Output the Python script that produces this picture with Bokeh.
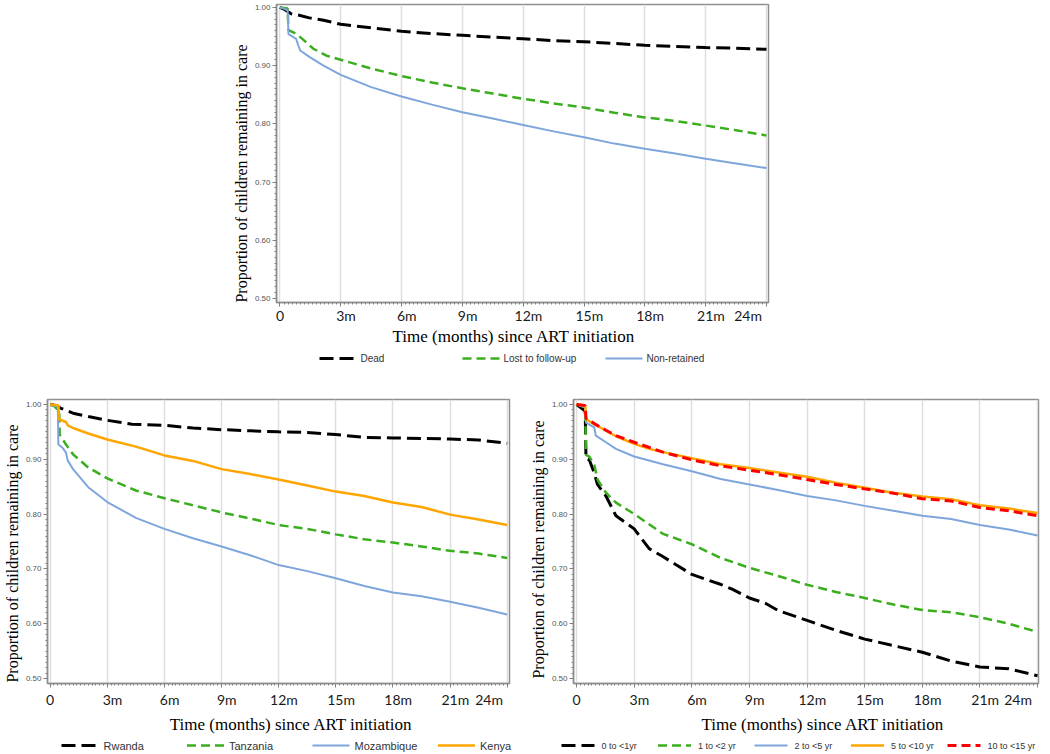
import numpy as np
from bokeh.plotting import figure
from bokeh.models import Range1d, FixedTicker, NumeralTickFormatter, Spacer
from bokeh.layouts import row, column
from bokeh.core.properties import value
from bokeh.embed import file_html
from bokeh.resources import INLINE

# ---------------- data ----------------
X_TICKS = [0, 3, 6, 9, 12, 15, 18, 21, 24]
X_TICK_LABELS = ["0", "3m", "6m", "9m", "12m", "15m", "18m", "21m", "24m"]
Y_TICKS = [0.5, 0.6, 0.7, 0.8, 0.9, 1.0]
Y_TITLE = "Proportion of children remaining in care"
X_TITLE = "Time (months) since ART initiation"

# Panel A: outcome definitions
A_LABELS = ["Dead", "Lost to follow-up", "Non-retained"]
dead_m = [0, 0.25, 0.55, 0.9, 1.45, 2.15, 3, 4.5, 6, 7.5, 9, 10.5, 12, 13.5, 15, 16.5, 18, 19.5, 21, 22.5, 24]
dead_v = [1.0, 0.996, 0.989, 0.987, 0.982, 0.978, 0.971, 0.965, 0.959, 0.955, 0.952, 0.949, 0.946, 0.943, 0.941, 0.938, 0.935, 0.933, 0.931, 0.930, 0.928]
ltfu_m = [0, 0.38, 0.42, 0.83, 1.2, 1.65, 2.3, 3, 4.5, 6, 7.5, 9, 10.5, 12, 13.5, 15, 16.5, 18, 19.5, 21, 22.5, 24]
ltfu_v = [1.0, 0.998, 0.961, 0.954, 0.943, 0.929, 0.917, 0.910, 0.895, 0.882, 0.871, 0.861, 0.852, 0.843, 0.835, 0.828, 0.819, 0.811, 0.805, 0.797, 0.789, 0.780]
nonret_m = [0, 0.2, 0.38, 0.42, 0.8, 0.9, 1.0, 1.45, 2.15, 3, 4.5, 6, 7.5, 9, 10.5, 12, 13.5, 15, 16.5, 18, 19.5, 21, 22.5, 24]
nonret_v = [1.0, 0.998, 0.995, 0.954, 0.946, 0.935, 0.926, 0.915, 0.900, 0.884, 0.863, 0.847, 0.833, 0.820, 0.809, 0.798, 0.787, 0.777, 0.766, 0.757, 0.749, 0.740, 0.732, 0.724]

# Panel B: by country
B_LABELS = ["Rwanda", "Tanzania", "Mozambique", "Kenya"]
rwanda_m = [0, 0.3, 0.57, 1.2, 2, 3, 4.3, 6, 7.5, 9, 10.5, 12, 13.5, 15, 16.5, 18, 19.5, 21, 22.5, 24]
rwanda_v = [1.0, 0.998, 0.993, 0.984, 0.978, 0.971, 0.964, 0.962, 0.957, 0.954, 0.952, 0.950, 0.949, 0.945, 0.940, 0.939, 0.938, 0.937, 0.935, 0.929]
tanzania_m = [0, 0.22, 0.4, 0.48, 0.5, 0.83, 1.2, 2, 3, 4.5, 6, 7.5, 9, 10.5, 12, 13.5, 15, 16.5, 18, 19.5, 21, 22.5, 24]
tanzania_v = [1.0, 0.997, 0.99, 0.988, 0.945, 0.927, 0.909, 0.885, 0.865, 0.843, 0.829, 0.816, 0.803, 0.792, 0.780, 0.773, 0.763, 0.754, 0.748, 0.741, 0.733, 0.728, 0.720]
mozambique_m = [0, 0.4, 0.43, 0.65, 0.83, 0.92, 1.2, 2, 3, 4.5, 6, 7.5, 9, 10.5, 12, 13.5, 15, 16.5, 18, 19.5, 21, 22.5, 24]
mozambique_v = [1.0, 0.996, 0.927, 0.921, 0.912, 0.898, 0.882, 0.849, 0.822, 0.793, 0.773, 0.756, 0.741, 0.725, 0.707, 0.696, 0.683, 0.669, 0.657, 0.650, 0.640, 0.629, 0.617]
kenya_m = [0, 0.44, 0.46, 0.83, 0.92, 1.2, 2, 3, 4.5, 6, 7.5, 9, 10.5, 12, 13.5, 15, 16.5, 18, 19.5, 21, 22.5, 24]
kenya_v = [1.0, 0.998, 0.973, 0.968, 0.962, 0.957, 0.947, 0.936, 0.923, 0.907, 0.897, 0.882, 0.873, 0.863, 0.852, 0.841, 0.833, 0.821, 0.813, 0.799, 0.790, 0.780]

# Panel C: by age group
C_LABELS = ["0 to <1yr", "1 to <2 yr", "2 to <5 yr", "5 to <10 yr", "10 to <15 yr"]
age0_m = [0, 0.23, 0.45, 0.49, 0.66, 0.92, 1.09, 1.53, 2.05, 3, 3.78, 4.47, 5.16, 6, 6.72, 7.49, 8.1, 9, 9.85, 10.5, 12, 13.5, 15, 16.5, 18, 19.5, 21, 22.5, 24]
age0_v = [1.0, 0.994, 0.988, 0.902, 0.899, 0.875, 0.854, 0.833, 0.797, 0.773, 0.737, 0.723, 0.708, 0.690, 0.681, 0.672, 0.663, 0.647, 0.637, 0.624, 0.606, 0.588, 0.572, 0.560, 0.548, 0.532, 0.521, 0.518, 0.505]
age1_m = [0, 0.45, 0.49, 0.66, 0.92, 1.09, 1.53, 2.05, 3, 4.5, 6, 7.5, 9, 10.5, 12, 13.5, 15, 16.5, 18, 19.5, 21, 22.5, 24]
age1_v = [1.0, 0.995, 0.908, 0.905, 0.890, 0.863, 0.839, 0.821, 0.800, 0.764, 0.745, 0.720, 0.702, 0.687, 0.671, 0.658, 0.647, 0.635, 0.625, 0.621, 0.612, 0.600, 0.585]
age2_m = [0, 0.23, 0.45, 0.49, 0.92, 1.0, 1.53, 2.05, 3, 4.5, 6, 7.5, 9, 10.5, 12, 13.5, 15, 16.5, 18, 19.5, 21, 22.5, 24]
age2_v = [1.0, 0.997, 0.995, 0.967, 0.958, 0.943, 0.931, 0.919, 0.905, 0.891, 0.878, 0.864, 0.854, 0.844, 0.833, 0.825, 0.815, 0.806, 0.797, 0.791, 0.780, 0.772, 0.761]
age5_m = [0, 0.45, 0.49, 0.92, 1.53, 2.05, 3, 3.78, 4.5, 6, 7.5, 9, 10.5, 12, 13.5, 15, 16.5, 18, 19.5, 21, 22.5, 24]
age5_v = [1.0, 0.998, 0.973, 0.964, 0.952, 0.942, 0.928, 0.919, 0.913, 0.902, 0.891, 0.884, 0.876, 0.868, 0.857, 0.848, 0.839, 0.832, 0.827, 0.816, 0.810, 0.802]
age10_m = [0, 0.45, 0.49, 0.92, 1.53, 2.05, 3, 4.5, 6, 7.5, 9, 10.5, 12, 13.5, 15, 16.5, 18, 19.5, 21, 22.5, 24]
age10_v = [1.0, 0.998, 0.975, 0.965, 0.953, 0.943, 0.931, 0.913, 0.899, 0.888, 0.880, 0.872, 0.863, 0.854, 0.846, 0.838, 0.828, 0.824, 0.812, 0.806, 0.797]

# ---------------- styling ----------------
BLACK = dict(line_color="#000000", line_width=3, line_dash="14 6")
GREEN = dict(line_color="#3aae1e", line_width=2.5, line_dash="9 5")
BLUE = dict(line_color="#7ea6dc", line_width=2)
ORANGE = dict(line_color="#ffa500", line_width=2.5)
RED = dict(line_color="#ff0000", line_width=3, line_dash="9 5")

EM = "\u2003"
EN = "\u2002"


def make_panel(width, height, mbl, mbr, mbt, mbb, yr, xr, ytitle_pad, xtitle_pre, xtitle_post,
               x_label_standoff, x_title_standoff):
    p = figure(width=width, height=height, output_backend="svg", toolbar_location=None,
               x_range=Range1d(*xr), y_range=Range1d(*yr),
               min_border_left=mbl, min_border_right=mbr, min_border_top=mbt, min_border_bottom=mbb)
    p.background_fill_color = "white"
    p.border_fill_color = "white"
    p.outline_line_color = "#8e8e8e"
    p.outline_line_width = 1.5
    p.ygrid.visible = False
    p.xgrid.grid_line_color = "#dedede"
    p.xgrid.grid_line_width = 1.5

    xa = p.xaxis[0]
    xa.ticker = FixedTicker(ticks=X_TICKS, minor_ticks=[float(v) for v in np.round(np.arange(0, 24.001, 0.2), 3)])
    overrides = {}
    for t, lab in zip(X_TICKS, X_TICK_LABELS):
        if t == X_TICKS[0]:
            overrides[t] = lab
        elif t == X_TICKS[-1]:
            overrides[t] = lab + EM
        else:
            overrides[t] = EM + lab
    xa.major_label_overrides = overrides
    xa.major_label_text_font = "Lato"
    xa.major_label_text_font_size = "14px"
    xa.major_label_text_color = "#1a1a1a"
    xa.major_label_standoff = x_label_standoff
    xa.axis_label = xtitle_pre + X_TITLE + xtitle_post
    xa.axis_label_text_font = "Liberation Serif"
    xa.axis_label_text_font_style = "normal"
    xa.axis_label_text_font_size = "17px"
    xa.axis_label_text_color = "#000000"
    xa.axis_label_standoff = x_title_standoff

    ya = p.yaxis[0]
    ya.ticker = FixedTicker(ticks=Y_TICKS, minor_ticks=[float(v) for v in np.round(np.arange(0.5, 1.0001, 0.01), 3)])
    ya.formatter = NumeralTickFormatter(format="0.00")
    ya.major_label_text_font = "Liberation Sans"
    ya.major_label_text_font_size = "8px"
    ya.major_label_text_color = "#555555"
    ya.major_label_standoff = 2
    ya.axis_label = Y_TITLE + ytitle_pad
    ya.axis_label_text_font = "Liberation Serif"
    ya.axis_label_text_font_style = "normal"
    ya.axis_label_text_font_size = "16px"
    ya.axis_label_text_color = "#000000"
    ya.axis_label_standoff = 2

    for ax in (xa, ya):
        ax.axis_line_color = "#8e8e8e"
        ax.axis_line_width = 1.5
        ax.major_tick_line_color = "#808080"
        ax.minor_tick_line_color = "#808080"
        ax.major_tick_in = 0
        ax.major_tick_out = 4
        ax.minor_tick_in = 0
        ax.minor_tick_out = 2
    return p


def legend_strip(width, height, labels, styles, first, pitch, glyph_w, text_off, font_size):
    """A thin figure below a panel that holds the legend (line sample + label)."""
    s = figure(width=width, height=height, output_backend="svg", toolbar_location=None,
               x_range=Range1d(0, width), y_range=Range1d(0, height),
               min_border_left=0, min_border_right=0, min_border_top=0, min_border_bottom=0,
               x_axis_type=None, y_axis_type=None)
    s.grid.visible = False
    s.outline_line_color = None
    s.background_fill_color = "white"
    s.border_fill_color = "white"
    mid = height / 2.0
    xs = [first + i * pitch for i in range(len(labels))]
    for x0, st in zip(xs, styles):
        s.line([x0, x0 + glyph_w], [mid, mid], **st)
    s.text(x=[x0 + text_off for x0 in xs], y=[mid] * len(labels), text=labels,
           text_font=value("Liberation Sans"), text_font_size=value(font_size),
           text_color="#333333", text_baseline="middle", text_align="left")
    return s


# ---------------- Panel A (top) ----------------
pA = make_panel(548, 348, 52, 4, 4, 42, (0.493, 1.005), (-0.17, 24.1), EM + EM + EN, "", EM, 0, 0)
pA.line(dead_m, dead_v, **BLACK)
pA.line(ltfu_m, ltfu_v, **GREEN)
pA.line(nonret_m, nonret_v, **BLUE)
legA = legend_strip(548, 20, A_LABELS, [BLACK, GREEN, BLUE], 95, 143, 37, 41, "10px")

# ---------------- Panel B (bottom left) ----------------
pB = make_panel(513, 368, 45, 4, 31, 48, (0.491, 1.009), (-0.14, 24.12), EM + EN, EM + EN, "", 3, 4)
pB.line(rwanda_m, rwanda_v, **BLACK)
pB.line(tanzania_m, tanzania_v, **GREEN)
pB.line(mozambique_m, mozambique_v, **BLUE)
pB.line(kenya_m, kenya_v, **ORANGE)
legB = legend_strip(513, 18, B_LABELS, [BLACK, GREEN, BLUE, ORANGE], 61, 125.5, 37, 42, "11px")

# ---------------- Panel C (bottom right) ----------------
pC = make_panel(529, 368, 60, 4, 31, 48, (0.491, 1.009), (-0.16, 24.05), EM, EM + EM, "", 3, 4)
pC.line(age0_m, age0_v, **BLACK)
pC.line(age1_m, age1_v, **GREEN)
pC.line(age2_m, age2_v, **BLUE)
pC.line(age5_m, age5_v, **ORANGE)
pC.line(age10_m, age10_v, **RED)
legC = legend_strip(529, 18, C_LABELS, [BLACK, GREEN, BLUE, ORANGE, RED], 48, 96.5, 33, 40, "9px")

layout = column(
    row(Spacer(width=224, height=348), pA),
    row(Spacer(width=224, height=20), legA),
    row(pB, pC),
    row(legB, legC),
)

open("out.html", "w").write(file_html(layout, INLINE))
